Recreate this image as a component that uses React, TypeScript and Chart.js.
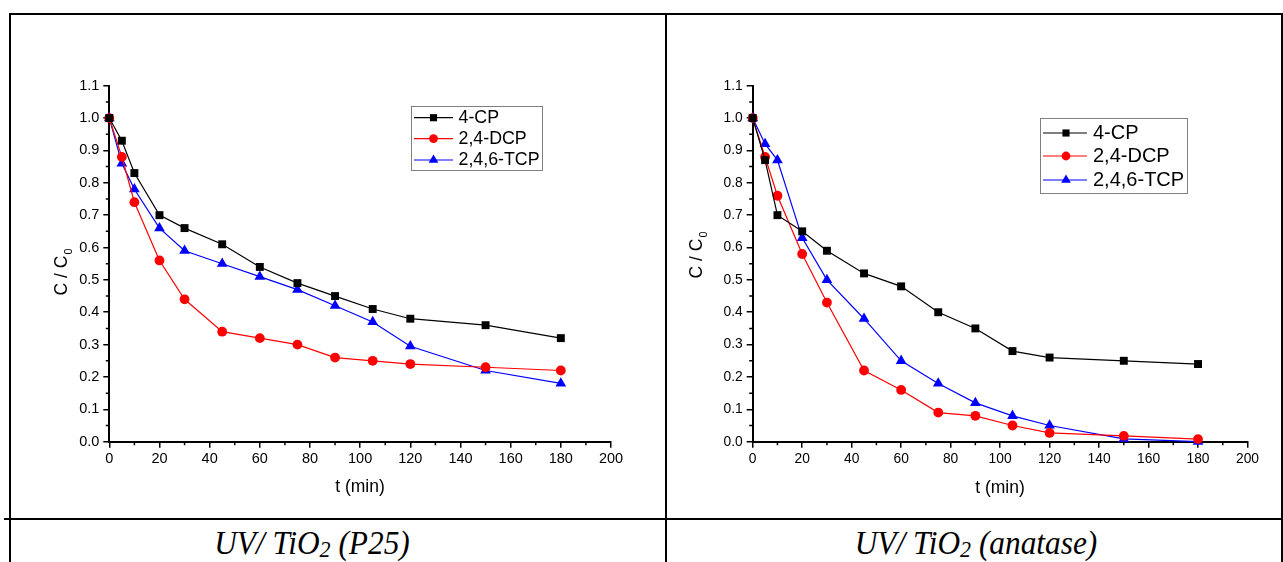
import React, { useEffect, useRef } from "react";
import { Chart, registerables } from "chart.js";

Chart.register(...registerables);

// ---------- data ----------
const times = [0, 5, 10, 20, 30, 45, 60, 75, 90, 105, 120, 150, 180];
const seriesLabels = ["4-CP", "2,4-DCP", "2,4,6-TCP"];
const seriesColors = ["#000000", "#ff0000", "#0000ff"];
const seriesMarkers = ["rect", "circle", "triangle"];

const p25CP = [1.0, 0.93, 0.83, 0.7, 0.66, 0.61, 0.54, 0.49, 0.45, 0.41, 0.38, 0.36, 0.32];
const p25DCP = [1.0, 0.88, 0.74, 0.56, 0.44, 0.34, 0.32, 0.3, 0.26, 0.25, 0.24, 0.23, 0.22];
const p25TCP = [1.0, 0.86, 0.78, 0.66, 0.59, 0.55, 0.51, 0.47, 0.42, 0.37, 0.295, 0.22, 0.18];

const anaCP = [1.0, 0.87, 0.7, 0.65, 0.59, 0.52, 0.48, 0.4, 0.35, 0.28, 0.26, 0.25, 0.24];
const anaDCP = [1.0, 0.88, 0.76, 0.58, 0.43, 0.22, 0.16, 0.09, 0.08, 0.05, 0.027, 0.018, 0.008];
const anaTCP = [1.0, 0.92, 0.87, 0.63, 0.5, 0.38, 0.25, 0.18, 0.12, 0.08, 0.05, 0.009, 0.0];

const xTickLabels = ["0", "20", "40", "60", "80", "100", "120", "140", "160", "180", "200"];
const yTickLabels = ["0.0", "0.1", "0.2", "0.3", "0.4", "0.5", "0.6", "0.7", "0.8", "0.9", "1.0", "1.1"];
const xMinorTicks = [10, 30, 50, 70, 90, 110, 130, 150, 170, 190];
const yMinorTicks = [0.05, 0.15, 0.25, 0.35, 0.45, 0.55, 0.65, 0.75, 0.85, 0.95, 1.05];
const xTitle = "t (min)";
const yTitleMain = "C / C";
const yTitleSub = "0";

const FONT = "'Liberation Sans', Arial, sans-serif";

type Geo = {
  canvas: { x: number; y: number; w: number; h: number };
  area: { l: number; r: number; t: number; b: number };
  tickFont: number;
  titleFont: number;
  xTitlePos: { x: number; y: number };
  yTitlePos: { x: number; y: number };
  legend: {
    box: [number, number, number, number];
    rows: number[];
    lx1: number;
    lx2: number;
    mx: number;
    tx: number;
    font: number;
  };
};

const leftGeo: Geo = {
  canvas: { x: 11, y: 16, w: 653, h: 502 },
  area: { l: 109.3, r: 611, t: 85.7, b: 441.7 },
  tickFont: 14.5,
  titleFont: 17.5,
  xTitlePos: { x: 360, y: 487 },
  yTitlePos: { x: 62, y: 272 },
  legend: {
    box: [411.5, 106.5, 131, 64],
    rows: [117.7, 138.6, 160],
    lx1: 414,
    lx2: 453,
    mx: 433.5,
    tx: 458.5,
    font: 17.8,
  },
};

const rightGeo: Geo = {
  canvas: { x: 667, y: 16, w: 613, h: 502 },
  area: { l: 752.7, r: 1247.5, t: 85.7, b: 441.7 },
  tickFont: 13.8,
  titleFont: 17.5,
  xTitlePos: { x: 1000, y: 488 },
  yTitlePos: { x: 697, y: 255 },
  legend: {
    box: [1040.5, 118.5, 147, 75],
    rows: [133, 156, 180],
    lx1: 1043,
    lx2: 1087,
    mx: 1066,
    tx: 1093,
    font: 20,
  },
};

function drawMarker(ctx: CanvasRenderingContext2D, style: string, x: number, y: number, r: number, color: string) {
  ctx.fillStyle = color;
  ctx.beginPath();
  if (style === "rect") {
    const s = r * Math.SQRT1_2;
    ctx.rect(x - s, y - s, 2 * s, 2 * s);
  } else if (style === "circle") {
    ctx.arc(x, y, r, 0, Math.PI * 2);
  } else {
    const a = (2 * Math.PI) / 3;
    ctx.moveTo(x, y - r);
    ctx.lineTo(x + Math.sin(a) * r, y - Math.cos(a) * r);
    ctx.lineTo(x + Math.sin(2 * a) * r, y - Math.cos(2 * a) * r);
    ctx.closePath();
  }
  ctx.fill();
}

const markerRadius: Record<string, number> = { rect: 5.6, circle: 4.9, triangle: 6.2 };

function ChartPanel({ geo, values }: { geo: Geo; values: number[][] }) {
  const ref = useRef<HTMLCanvasElement>(null);
  useEffect(() => {
    const c = geo.canvas;
    const al = geo.area.l - c.x;
    const ar = geo.area.r - c.x;
    const at = geo.area.t - c.y;
    const ab = geo.area.b - c.y;
    const yW = 60;
    const xH = 40;

    const decor = {
      id: "decor",
      afterDraw(chart: any) {
        const ctx: CanvasRenderingContext2D = chart.ctx;
        const xs = chart.scales.x;
        const ys = chart.scales.y;
        const area = chart.chartArea;
        ctx.save();
        // minor ticks
        ctx.strokeStyle = "#000";
        ctx.lineWidth = 1.5;
        ctx.beginPath();
        xMinorTicks.forEach((v) => {
          const px = xs.getPixelForValue(v);
          ctx.moveTo(px, area.bottom);
          ctx.lineTo(px, area.bottom + 3.5);
        });
        yMinorTicks.forEach((v) => {
          const py = ys.getPixelForValue(v);
          ctx.moveTo(area.left, py);
          ctx.lineTo(area.left - 3.5, py);
        });
        ctx.stroke();

        // x title
        ctx.fillStyle = "#000";
        ctx.font = `${geo.titleFont}px ${FONT}`;
        ctx.textAlign = "center";
        ctx.textBaseline = "middle";
        ctx.fillText(xTitle, geo.xTitlePos.x - c.x, geo.xTitlePos.y - c.y);

        // y title with subscript
        ctx.save();
        ctx.translate(geo.yTitlePos.x - c.x, geo.yTitlePos.y - c.y);
        ctx.rotate(-Math.PI / 2);
        ctx.font = `${geo.titleFont}px ${FONT}`;
        const wMain = ctx.measureText(yTitleMain).width;
        const subSize = geo.titleFont * 0.62;
        ctx.font = `${subSize}px ${FONT}`;
        const wSub = ctx.measureText(yTitleSub).width;
        const total = wMain + wSub + 1;
        ctx.textAlign = "left";
        ctx.textBaseline = "middle";
        ctx.font = `${geo.titleFont}px ${FONT}`;
        ctx.fillText(yTitleMain, -total / 2, 0);
        ctx.font = `${subSize}px ${FONT}`;
        ctx.fillText(yTitleSub, -total / 2 + wMain + 1, geo.titleFont * 0.42);
        ctx.restore();

        // legend
        const L = geo.legend;
        ctx.strokeStyle = "#808080";
        ctx.lineWidth = 1;
        ctx.strokeRect(L.box[0] - c.x, L.box[1] - c.y, L.box[2], L.box[3]);
        chart.data.datasets.forEach((ds: any, i: number) => {
          const ry = L.rows[i] - c.y;
          ctx.strokeStyle = ds.borderColor;
          ctx.lineWidth = 1.2;
          ctx.beginPath();
          ctx.moveTo(L.lx1 - c.x, ry);
          ctx.lineTo(L.lx2 - c.x, ry);
          ctx.stroke();
          drawMarker(ctx, ds.pointStyle, L.mx - c.x, ry, markerRadius[ds.pointStyle] * 0.9, ds.borderColor);
          ctx.fillStyle = "#000";
          ctx.font = `${L.font}px ${FONT}`;
          ctx.textAlign = "left";
          ctx.textBaseline = "middle";
          ctx.fillText(ds.label, L.tx - c.x, ry + 0.5);
        });
        ctx.restore();
      },
    };

    const datasets = values.map((vals, i) => ({
      label: seriesLabels[i],
      data: times.map((t, j) => ({ x: t, y: vals[j] })),
      borderColor: seriesColors[i],
      backgroundColor: seriesColors[i],
      borderWidth: 1.2,
      pointStyle: seriesMarkers[i],
      pointRadius: markerRadius[seriesMarkers[i]],
      pointBorderWidth: 0,
      pointBackgroundColor: seriesColors[i],
      tension: 0,
      clip: false,
    }));

    const chart = new Chart(ref.current as HTMLCanvasElement, {
      type: "line",
      data: { datasets } as any,
      options: {
        animation: false,
        responsive: false,
        maintainAspectRatio: false,
        devicePixelRatio: 1,
        layout: {
          padding: { left: al - yW, right: c.w - ar, top: at, bottom: c.h - ab - xH },
        },
        plugins: { legend: { display: false }, tooltip: { enabled: false } },
        scales: {
          x: {
            type: "linear",
            min: 0,
            max: 200,
            afterFit: (s: any) => {
              s.height = xH;
            },
            ticks: {
              stepSize: 20,
              autoSkip: false,
              maxRotation: 0,
              padding: 3,
              color: "#000",
              font: { size: geo.tickFont, family: FONT },
              callback: (_v: any, i: number) => xTickLabels[i],
            },
            grid: { drawOnChartArea: false, drawTicks: true, tickLength: 6, color: "#000", lineWidth: 1.5 },
            border: { display: true, color: "#000", width: 2 },
          },
          y: {
            type: "linear",
            min: 0,
            max: 1.1,
            afterFit: (s: any) => {
              s.width = yW;
            },
            ticks: {
              stepSize: 0.1,
              autoSkip: false,
              padding: 4,
              color: "#000",
              font: { size: geo.tickFont, family: FONT },
              callback: (_v: any, i: number) => yTickLabels[i],
            },
            grid: { drawOnChartArea: false, drawTicks: true, tickLength: 6, color: "#000", lineWidth: 1.5 },
            border: { display: true, color: "#000", width: 2 },
          },
        },
      } as any,
      plugins: [decor],
    });
    return () => chart.destroy();
  }, []);
  return (
    <canvas
      ref={ref}
      width={geo.canvas.w}
      height={geo.canvas.h}
      style={{
        position: "absolute",
        left: geo.canvas.x,
        top: geo.canvas.y,
        width: geo.canvas.w,
        height: geo.canvas.h,
      }}
    />
  );
}

const line = (l: number, t: number, w: number, h: number): React.CSSProperties => ({
  position: "absolute",
  left: l,
  top: t,
  width: w,
  height: h,
  background: "#000",
});

const captionStyle = (cx: number): React.CSSProperties => ({
  position: "absolute",
  left: cx,
  top: 525,
  transform: "translateX(-50%) scaleX(0.95)",
  fontFamily: "'Liberation Serif', 'Times New Roman', serif",
  fontStyle: "italic",
  fontSize: 33,
  lineHeight: "36px",
  whiteSpace: "nowrap",
  color: "#000",
});

const subStyle: React.CSSProperties = { fontSize: "0.7em", verticalAlign: "-0.12em", lineHeight: 0 };

export default function App() {
  return (
    <div style={{ position: "absolute", left: 0, top: 0, width: 1283, height: 562, overflow: "hidden", background: "#fff" }}>
      <ChartPanel geo={leftGeo} values={[p25CP, p25DCP, p25TCP]} />
      <ChartPanel geo={rightGeo} values={[anaCP, anaDCP, anaTCP]} />
      <div style={line(9, 13, 1274, 2)} />
      <div style={line(9, 13, 2, 549)} />
      <div style={line(665, 13, 2, 549)} />
      <div style={line(1281, 13, 2, 549)} />
      <div style={line(4, 518, 1279, 2)} />
      <div style={captionStyle(312)}>
        UV/ TiO<sub style={subStyle}>2</sub> (P25)
      </div>
      <div style={captionStyle(976)}>
        UV/ TiO<sub style={subStyle}>2</sub> (anatase)
      </div>
    </div>
  );
}
